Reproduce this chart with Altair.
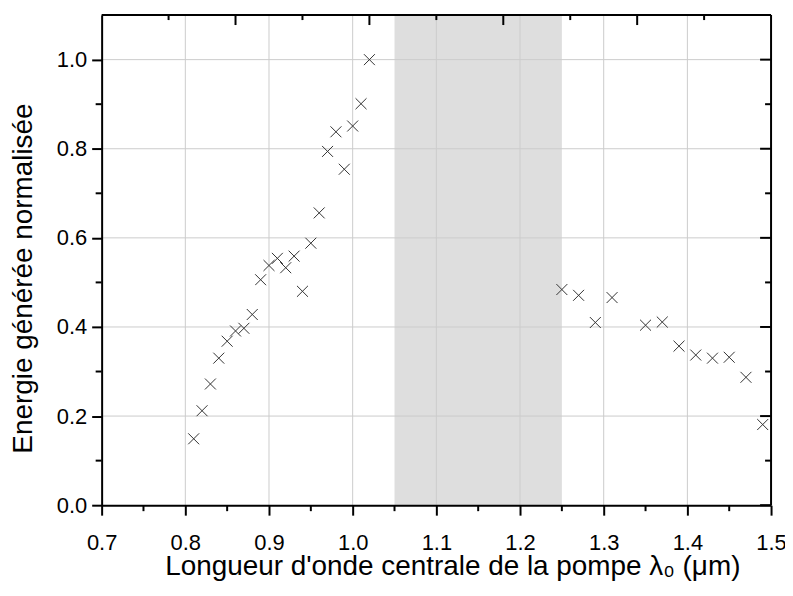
import altair as alt
import pandas as pd

# ---- data ----
wavelength = [0.81, 0.82, 0.83, 0.84, 0.85, 0.86, 0.87, 0.88, 0.89, 0.90, 0.91,
              0.92, 0.93, 0.94, 0.95, 0.96, 0.97, 0.98, 0.99, 1.00, 1.01, 1.02,
              1.25, 1.27, 1.29, 1.31, 1.35, 1.37, 1.39, 1.41, 1.43, 1.45, 1.47, 1.49]
energy = [0.149, 0.212, 0.272, 0.330, 0.368, 0.391, 0.397, 0.428, 0.506, 0.538, 0.554,
          0.533, 0.559, 0.480, 0.588, 0.656, 0.794, 0.838, 0.754, 0.851, 0.901, 1.000,
          0.484, 0.471, 0.410, 0.466, 0.404, 0.411, 0.357, 0.337, 0.330, 0.332, 0.287, 0.181]

band_start = [1.05]
band_end = [1.25]

x_major = [0.7, 0.8, 0.9, 1.0, 1.1, 1.2, 1.3, 1.4, 1.5]
x_minor = [0.75, 0.85, 0.95, 1.05, 1.15, 1.25, 1.35, 1.45]
x_grid = [0.8, 0.9, 1.0, 1.1, 1.2, 1.3, 1.4]
y_major = [0.0, 0.2, 0.4, 0.6, 0.8, 1.0]
y_minor = [0.1, 0.3, 0.5, 0.7, 0.9]
y_grid = [0.2, 0.4, 0.6, 0.8, 1.0]
top_major = [0.86, 1.02, 1.18, 1.34]
top_minor = [0.78, 0.94, 1.10, 1.26, 1.42]
frame_x = [1.5]
frame_y = [1.1]

x_title = "Longueur d'onde centrale de la pompe λ₀ (μm)"
y_title = "Energie générée normalisée"

W, H = 672, 492
FONT = "Liberation Sans, Arial, sans-serif"
INK = "#000000"

xs = alt.Scale(domain=[0.7, 1.5], nice=False, zero=False)
ys = alt.Scale(domain=[0.0, 1.1], nice=False, zero=False)

pts = pd.DataFrame({"x": wavelength, "y": energy})
band = pd.DataFrame({"x": band_start, "x2": band_end, "y": [0.0], "y2": [1.1]})

ax_x = alt.Axis(values=x_major, format=".1f", grid=False, zindex=1,
                domainColor=INK, domainWidth=2, tickColor=INK, tickWidth=2, tickSize=10,
                labelFont=FONT, labelFontSize=22, labelColor=INK, labelPadding=34,
                labelBaseline="alphabetic", labelFlush=False, labelOverlap=False,
                title=x_title, titleFont=FONT, titleFontSize=28, titleFontWeight="normal",
                titleColor=INK, titleX=352, titleY=70, titleBaseline="alphabetic",
                titleAlign="center")
ax_y = alt.Axis(values=y_major, format=".1f", grid=False, zindex=1,
                domainColor=INK, domainWidth=2, tickColor=INK, tickWidth=2, tickSize=10,
                labelFont=FONT, labelFontSize=22, labelColor=INK, labelPadding=5,
                labelFlush=False, labelOverlap=False,
                title=y_title, titleFont=FONT, titleFontSize=28, titleFontWeight="normal",
                titleColor=INK, titleX=-70, titleY=264, titleAngle=270,
                titleBaseline="alphabetic", titleAlign="center")

band_layer = alt.Chart(band).mark_rect(color="#dedede").encode(
    x=alt.X("x:Q", scale=xs, axis=ax_x), x2="x2:Q",
    y=alt.Y("y:Q", scale=ys, axis=ax_y), y2="y2:Q")

def vrules(vals, y0, y1, color=INK, width=2):
    return alt.Chart(pd.DataFrame({"x": vals})).mark_rule(color=color, strokeWidth=width).encode(
        x=alt.X("x:Q", scale=xs, axis=ax_x), y=alt.value(y0), y2=alt.value(y1))

def hrules(vals, x0, x1, color=INK, width=2):
    return alt.Chart(pd.DataFrame({"y": vals})).mark_rule(color=color, strokeWidth=width).encode(
        y=alt.Y("y:Q", scale=ys, axis=ax_y), x=alt.value(x0), x2=alt.value(x1))

grid_v = vrules(x_grid, 0, H, color="#cccccc", width=1)
grid_h = hrules(y_grid, 0, W, color="#cccccc", width=1)

points = alt.Chart(pts).mark_point(
    shape="M-1,-1L1,1M-1,1L1,-1", size=121, filled=False,
    color="#333333", strokeWidth=1, opacity=1).encode(
    x=alt.X("x:Q", scale=xs, axis=ax_x), y=alt.Y("y:Q", scale=ys, axis=ax_y))

bottom_minor = vrules(x_minor, H, H + 6)
left_minor = hrules(y_minor, -6, 0)
top_maj = vrules(top_major, 0, 10)
top_min = vrules(top_minor, 0, 5)
right_maj = hrules(y_major, W - 11, W)
right_min = hrules(y_minor, W - 6, W)
frame_top = hrules(frame_y, 0, W)
frame_right = vrules(frame_x, 0, H)

chart = alt.layer(
    band_layer, grid_v, grid_h, points,
    bottom_minor, left_minor, top_maj, top_min, right_maj, right_min,
    frame_top, frame_right
).properties(
    width=W, height=H,
    padding={"left": 94, "top": 6, "right": 14, "bottom": 76},
    autosize=alt.AutoSizeParams(type="none"),
    background="white",
).configure_view(stroke="transparent")

chart.save("out.html", embed_options={"renderer": "svg", "actions": False})
